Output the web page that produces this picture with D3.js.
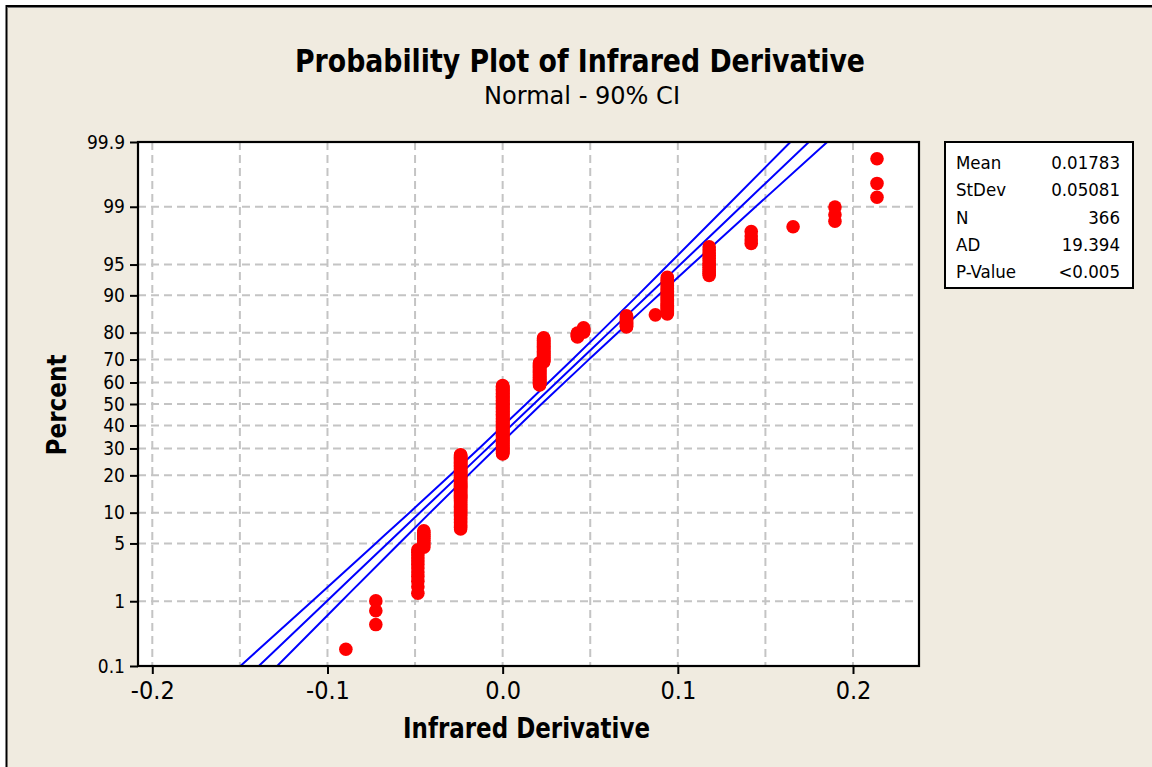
<!DOCTYPE html>
<html>
<head>
<meta charset="utf-8">
<script src="https://cdn.jsdelivr.net/npm/d3@7"></script>
<style>
  html, body { margin: 0; padding: 0; background: #ffffff; }
  svg { display: block; }
  text { font-family: "DejaVu Sans Condensed", "DejaVu Sans", sans-serif; font-stretch: condensed; fill: #000; }
</style>
</head>
<body>
<svg id="chart" width="1152" height="767"></svg>
<script>
// ---------------- data ----------------
const distinctValues = [-0.0895, -0.0724, -0.0484, -0.0450, -0.0240, 0.0000, 0.0211, 0.0234,
                        0.0427, 0.0462, 0.0707, 0.0872, 0.0940, 0.1179, 0.1419, 0.1658, 0.1897, 0.2137];
const valueCounts    = [1, 3, 12, 9, 76, 114, 37, 35, 6, 6, 13, 1, 29, 13, 4, 1, 3, 3];

const ciPercent = [0.1, 1, 5, 10, 20, 30, 50, 70, 80, 90, 95, 99, 99.9];
const fitX      = [-0.1392, -0.1004, -0.0658, -0.0473, -0.0249, -0.0088, 0.0178, 0.0445, 0.0606, 0.0830, 0.1014, 0.1360, 0.1748];
const ciLowerX  = [-0.1497, -0.1088, -0.0725, -0.0532, -0.0300, -0.0135, 0.0134, 0.0398, 0.0555, 0.0771, 0.0947, 0.1276, 0.1643];
const ciUpperX  = [-0.1287, -0.0920, -0.0591, -0.0414, -0.0198, -0.0041, 0.0222, 0.0492, 0.0657, 0.0889, 0.1081, 0.1444, 0.1853];

const yTickValues = [0.1, 1, 5, 10, 20, 30, 40, 50, 60, 70, 80, 90, 95, 99, 99.9];
const yTickLabels = ["0.1", "1", "5", "10", "20", "30", "40", "50", "60", "70", "80", "90", "95", "99", "99.9"];
const xTickValues = [-0.2, -0.1, 0.0, 0.1, 0.2];
const xTickLabels = ["-0.2", "-0.1", "0.0", "0.1", "0.2"];
const xGridValues = [-0.2, -0.15, -0.1, -0.05, 0.0, 0.05, 0.1, 0.15, 0.2];

const statLabels = ["Mean", "StDev", "N", "AD", "P-Value"];
const statValues = ["0.01783", "0.05081", "366", "19.394", "<0.005"];

const titleText = "Probability Plot of Infrared Derivative";
const subtitleText = "Normal - 90% CI";
const xTitleText = "Infrared Derivative";
const yTitleText = "Percent";

// ---------------- helpers ----------------
// inverse standard normal CDF (Acklam)
function probit(p) {
  const a = [-3.969683028665376e+01, 2.209460984245205e+02, -2.759285104469687e+02, 1.383577518672690e+02, -3.066479806614716e+01, 2.506628277459239e+00];
  const b = [-5.447609879822406e+01, 1.615858368580409e+02, -1.556989798598866e+02, 6.680131188771972e+01, -1.328068155288572e+01];
  const c = [-7.784894002430293e-03, -3.223964580411365e-01, -2.400758277161838e+00, -2.549732539343734e+00, 4.374664141464968e+00, 2.938163982698783e+00];
  const d = [7.784695709041462e-03, 3.224671290700398e-01, 2.445134137142996e+00, 3.754408661907416e+00];
  const pl = 0.02425, ph = 1 - pl;
  let q, r;
  if (p < pl) {
    q = Math.sqrt(-2 * Math.log(p));
    return (((((c[0]*q+c[1])*q+c[2])*q+c[3])*q+c[4])*q+c[5]) / ((((d[0]*q+d[1])*q+d[2])*q+d[3])*q+1);
  } else if (p <= ph) {
    q = p - 0.5; r = q*q;
    return (((((a[0]*r+a[1])*r+a[2])*r+a[3])*r+a[4])*r+a[5])*q / (((((b[0]*r+b[1])*r+b[2])*r+b[3])*r+b[4])*r+1);
  } else {
    q = Math.sqrt(-2 * Math.log(1 - p));
    return -(((((c[0]*q+c[1])*q+c[2])*q+c[3])*q+c[4])*q+c[5]) / ((((d[0]*q+d[1])*q+d[2])*q+d[3])*q+1);
  }
}

// ---------------- layout ----------------
const W = 1152, H = 767;
const plot = { left: 138, right: 919, top: 142, bottom: 666 };

const svg = d3.select("#chart");

// page background and frame
svg.append("rect").attr("x", 0).attr("y", 0).attr("width", W).attr("height", H).attr("fill", "#ffffff");
svg.append("rect").attr("x", 7).attr("y", 7).attr("width", W).attr("height", H).attr("fill", "#F0EBE0");
svg.append("line").attr("x1", 6).attr("x2", W).attr("y1", 6).attr("y2", 6).attr("stroke", "#000").attr("stroke-width", 2);
svg.append("line").attr("x1", 6.5).attr("x2", 6.5).attr("y1", 5).attr("y2", H).attr("stroke", "#000").attr("stroke-width", 2);
svg.append("line").attr("x1", 7).attr("x2", W).attr("y1", 7.5).attr("y2", 7.5).attr("stroke", "#777").attr("stroke-width", 1);

// scales
const x = d3.scaleLinear().domain([-0.2, 0.2]).range([152.3, 853]);
const zMax = probit(0.999);
const yz = d3.scaleLinear().domain([-zMax, zMax]).range([plot.bottom, plot.top]);
const yP = p => yz(probit(p / 100));

// plot area
svg.append("rect").attr("x", plot.left).attr("y", plot.top)
  .attr("width", plot.right - plot.left).attr("height", plot.bottom - plot.top)
  .attr("fill", "#ffffff");

svg.append("clipPath").attr("id", "plotClip").append("rect")
  .attr("x", plot.left).attr("y", plot.top)
  .attr("width", plot.right - plot.left).attr("height", plot.bottom - plot.top);

// grid
const grid = svg.append("g").attr("stroke", "#c4c4c4").attr("stroke-width", 2).attr("stroke-dasharray", "8,5");
grid.selectAll("line.v").data(xGridValues).join("line").attr("class", "v")
  .attr("x1", d => x(d)).attr("x2", d => x(d)).attr("y1", plot.top).attr("y2", plot.bottom);
grid.selectAll("line.h").data(yTickValues.filter(v => v > 0.1 && v < 99.9)).join("line").attr("class", "h")
  .attr("x1", plot.left).attr("x2", plot.right).attr("y1", d => yP(d)).attr("y2", d => yP(d));

// fit + CI lines
const lineGen = (xs) => d3.line().x((d, i) => x(xs[i])).y(d => yP(d)).curve(d3.curveMonotoneY)(ciPercent);
const lines = svg.append("g").attr("clip-path", "url(#plotClip)")
  .attr("fill", "none").attr("stroke", "#0000FF").attr("stroke-width", 2);
[ciLowerX, fitX, ciUpperX].forEach(xs => lines.append("path").attr("d", lineGen(xs)));

// points (plotting positions from ranks, median ranks)
const nTotal = d3.sum(valueCounts);
const points = [];
let rank = 0;
distinctValues.forEach((v, k) => {
  for (let j = 0; j < valueCounts[k]; j++) {
    rank += 1;
    points.push({ v: v, p: (rank - 0.3) / (nTotal + 0.4) * 100 });
  }
});
svg.append("g").attr("clip-path", "url(#plotClip)")
  .selectAll("circle").data(points).join("circle")
  .attr("cx", d => x(d.v)).attr("cy", d => yP(d.p)).attr("r", 6.8)
  .attr("fill", "#FF0000");

// axes
const xAxis = d3.axisBottom(x).tickValues(xTickValues)
  .tickFormat((d, i) => xTickLabels[i]).tickSize(8).tickSizeOuter(0).tickPadding(5);
const gx = svg.append("g").attr("transform", `translate(0,${plot.bottom})`).call(xAxis);
gx.select(".domain").remove();
gx.selectAll(".tick line").attr("stroke", "#000").attr("stroke-width", 2);
gx.selectAll(".tick text").attr("font-size", 25).attr("dy", "0.78em")
  .attr("font-family", "'DejaVu Sans Condensed','DejaVu Sans',sans-serif");

const yAxis = d3.axisLeft(yz).tickValues(yTickValues.map(v => probit(v / 100)))
  .tickFormat((d, i) => yTickLabels[i]).tickSize(8).tickSizeOuter(0).tickPadding(5);
const gy = svg.append("g").attr("transform", `translate(${plot.left},0)`).call(yAxis);
gy.select(".domain").remove();
gy.selectAll(".tick line").attr("stroke", "#000").attr("stroke-width", 2);
gy.selectAll(".tick text").attr("font-size", 19)
  .attr("font-family", "'DejaVu Sans Condensed','DejaVu Sans',sans-serif");

// plot border
svg.append("rect").attr("x", plot.left).attr("y", plot.top)
  .attr("width", plot.right - plot.left).attr("height", plot.bottom - plot.top)
  .attr("fill", "none").attr("stroke", "#000").attr("stroke-width", 2.2);

// titles
svg.append("text").attr("x", 580).attr("y", 72).attr("text-anchor", "middle")
  .attr("font-size", 32).attr("font-weight", "bold")
  .attr("textLength", 570).attr("lengthAdjust", "spacingAndGlyphs").text(titleText);
svg.append("text").attr("x", 582).attr("y", 104).attr("text-anchor", "middle")
  .attr("font-size", 25)
  .attr("textLength", 196).attr("lengthAdjust", "spacingAndGlyphs").text(subtitleText);
svg.append("text").attr("x", 526.5).attr("y", 738).attr("text-anchor", "middle")
  .attr("font-size", 28).attr("font-weight", "bold")
  .attr("textLength", 247).attr("lengthAdjust", "spacingAndGlyphs").text(xTitleText);
svg.append("text").attr("transform", "translate(66,405) rotate(-90)").attr("text-anchor", "middle")
  .attr("font-size", 27).attr("font-weight", "bold")
  .attr("textLength", 101).attr("lengthAdjust", "spacingAndGlyphs").text(yTitleText);

// stats box
const box = { x: 945, y: 142, w: 188, h: 146 };
svg.append("rect").attr("x", box.x).attr("y", box.y).attr("width", box.w).attr("height", box.h)
  .attr("fill", "#ffffff").attr("stroke", "#000").attr("stroke-width", 2);
const rowY = d3.scalePoint().domain(statLabels).range([169, 278]);
const gs = svg.append("g").attr("font-size", 18.5);
gs.selectAll("text.lab").data(statLabels).join("text").attr("class", "lab")
  .attr("x", 956).attr("y", d => rowY(d)).text(d => d);
gs.selectAll("text.val").data(statValues).join("text").attr("class", "val")
  .attr("x", 1120).attr("y", (d, i) => rowY(statLabels[i])).attr("text-anchor", "end").text(d => d);
</script>
</body>
</html>
